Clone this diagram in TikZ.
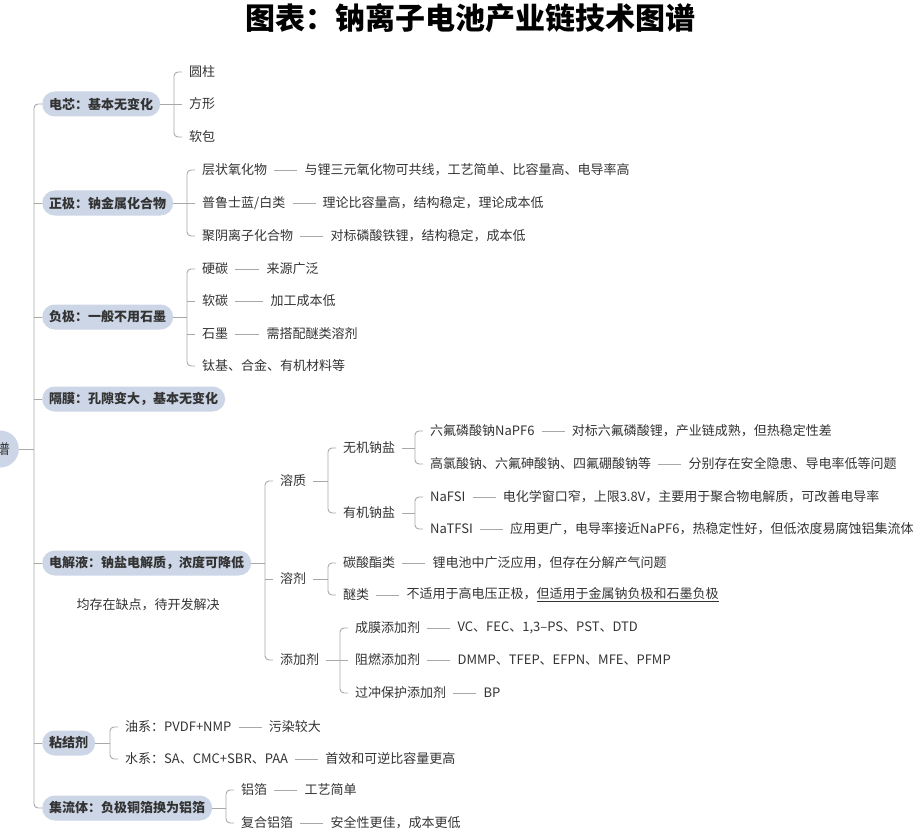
\documentclass[tikz,border=0pt]{standalone}
\usepackage{fontspec}
\setmainfont{Noto Sans CJK SC}
\usetikzlibrary{positioning}
\definecolor{pillblue}{HTML}{CDD6E6}
\definecolor{linegray}{HTML}{A8A8A8}
\definecolor{inkgray}{HTML}{333333}

\begin{document}
\begin{tikzpicture} [
  x = 1pt, y = -1pt,
  inner sep = 0,
  every node/.style = { text = inkgray, font = \fontsize{13pt}{15pt}\selectfont },
  topic/.style = { fill = pillblue, rounded corners = 12.5pt, minimum height = 25pt, inner xsep = 7pt, anchor = west, font = \fontsize{13pt}{15pt}\selectfont\bfseries },
  leaf/.style = { anchor = west },
  link/.style = { draw = linegray, line width = 0.9pt, rounded corners = 4pt },
  tick/.style = { link, shorten > = 7pt },
  sep/.style = { link, shorten < = 7pt, shorten > = 7pt }
  ]
  \useasboundingbox (0,0) rectangle (923,837);
  \clip (0,0) rectangle (923,837);

  \node[text = black, font = \fontsize{30pt}{32pt}\selectfont\bfseries] (title) at (470,18) {图表：钠离子电池产业链技术图谱};

  \node[topic, anchor = east, minimum height = 37pt, rounded corners = 18.5pt, inner xsep = 9pt, font = \fontsize{14pt}{16pt}\selectfont] (root) at (19,449) {钠离子电池产业链技术图谱};
  \coordinate (trunk) at (34,449);

  \node[topic] (cell) at (42,104) {电芯：基本无变化};
  \node[topic] (cathode) at (42,203) {正极：钠金属化合物};
  \node[topic] (anode) at (42,317) {负极：一般不用石墨};
  \node[topic] (membrane) at (42,399) {隔膜：孔隙变大，基本无变化};
  \node[topic] (elyte) at (42,563) {电解液：钠盐电解质，浓度可降低};
  \node (flaw) at (148,605) {均存在缺点，待开发解决};
  \node[topic] (binder) at (42,743) {粘结剂};
  \node[topic] (collector) at (42,808) {集流体：负极铜箔换为铝箔};

  \draw[link] (root) -- (trunk);
  \draw[link] (cell.west) -| (trunk) |- (collector.west);
  \foreach \n in {cathode, anode, membrane, elyte, binder}
    \draw[link] (trunk |- \n.west) -- (\n.west);

  % cell
  \node[leaf] (cyl) at (189,72) {圆柱};
  \node[leaf] (prism) at (189,104) {方形};
  \node[leaf] (pouch) at (189,137) {软包};
  \coordinate (cell-b) at (174,104);
  \draw[link] (cell) -- (cell-b);
  \draw[link] ([xshift=-7pt]cyl.west) -| (cell-b) |- ([xshift=-7pt]pouch.west);
  \draw[tick] (cell-b |- prism.west) -- (prism.west);

  % cathode
  \node[leaf] (layered) at (202,170) {层状氧化物};
  \node[right = 37pt of layered] (layered-n) {与锂三元氧化物可共线，工艺简单、比容量高、电导率高};
  \node[leaf] (prussian) at (202,203) {普鲁士蓝/白类};
  \node[right = 37pt of prussian] (prussian-n) {理论比容量高，结构稳定，理论成本低};
  \node[leaf] (polyanion) at (202,236) {聚阴离子化合物};
  \node[right = 37pt of polyanion] (polyanion-n) {对标磷酸铁锂，结构稳定，成本低};
  \coordinate (cathode-b) at (187,203);
  \draw[link] (cathode) -- (cathode-b);
  \draw[link] ([xshift=-7pt]layered.west) -| (cathode-b) |- ([xshift=-7pt]polyanion.west);
  \draw[tick] (cathode-b |- prussian.west) -- (prussian.west);
  \foreach \n in {layered, prussian, polyanion}
    \draw[sep] (\n) -- (\n-n);

  % anode
  \node[leaf] (hard) at (202,269) {硬碳};
  \node[right = 38pt of hard] (hard-n) {来源广泛};
  \node[leaf] (soft) at (202,301) {软碳};
  \node[right = 42pt of soft] (soft-n) {加工成本低};
  \node[leaf] (graphite) at (202,334) {石墨};
  \node[right = 38pt of graphite] (graphite-n) {需搭配醚类溶剂};
  \node[leaf] (others) at (202,366) {钛基、合金、有机材料等};
  \coordinate (anode-b) at (187,317);
  \draw[link] (anode) -- (anode-b);
  \draw[link] ([xshift=-7pt]hard.west) -| (anode-b) |- ([xshift=-7pt]others.west);
  \foreach \n in {soft, graphite}
    \draw[tick] (anode-b |- \n.west) -- (\n.west);
  \foreach \n in {hard, soft, graphite}
    \draw[sep] (\n) -- (\n-n);

  % electrolyte
  \node[leaf] (solute) at (280,481) {溶质};
  \node[leaf] (solvent) at (280,579) {溶剂};
  \node[leaf] (additive) at (280,660) {添加剂};
  \coordinate (elyte-b) at (265,563);
  \draw[link] (elyte) -- (elyte-b);
  \draw[link] ([xshift=-7pt]solute.west) -| (elyte-b) |- ([xshift=-7pt]additive.west);
  \draw[tick] (elyte-b |- solvent.west) -- (solvent.west);

  \node[leaf] (inorg) at (343,448) {无机钠盐};
  \node[leaf] (org) at (343,513) {有机钠盐};
  \coordinate (solute-b) at (328,481);
  \draw[link, shorten < = 7pt] (solute) -- (solute-b);
  \draw[link] ([xshift=-7pt]inorg.west) -| (solute-b) |- ([xshift=-7pt]org.west);

  \node[leaf] (napf) at (430,431) {六氟磷酸钠NaPF6};
  \node[right = 37pt of napf] (napf-n) {对标六氟磷酸锂，产业链成熟，但热稳定性差};
  \node[leaf] (perchl) at (430,464) {高氯酸钠、六氟砷酸钠、四氟硼酸钠等};
  \node[right = 37pt of perchl] (perchl-n) {分别存在安全隐患、导电率低等问题};
  \coordinate (inorg-b) at (415,448);
  \draw[link, shorten < = 7pt] (inorg) -- (inorg-b);
  \draw[link] ([xshift=-7pt]napf.west) -| (inorg-b) |- ([xshift=-7pt]perchl.west);

  \node[leaf] (nafsi) at (430,497) {NaFSI};
  \node[right = 37pt of nafsi] (nafsi-n) {电化学窗口窄，上限3.8V，主要用于聚合物电解质，可改善电导率};
  \node[leaf] (natfsi) at (430,529) {NaTFSI};
  \node[right = 37pt of natfsi] (natfsi-n) {应用更广，电导率接近NaPF6，热稳定性好，但低浓度易腐蚀铝集流体};
  \coordinate (org-b) at (415,513);
  \draw[link, shorten < = 7pt] (org) -- (org-b);
  \draw[link] ([xshift=-7pt]nafsi.west) -| (org-b) |- ([xshift=-7pt]natfsi.west);

  \node[leaf] (carbonate) at (343,563) {碳酸酯类};
  \node[right = 37pt of carbonate] (carbonate-n) {锂电池中广泛应用，但存在分解产气问题};
  \node[leaf] (ether) at (343,595) {醚类};
  \node[right = 37pt of ether] (ether-n) {不适用于高电压正极，\underline{但适用于金属钠负极和石墨负极}};
  \coordinate (solvent-b) at (328,579);
  \draw[link, shorten < = 7pt] (solvent) -- (solvent-b);
  \draw[link] ([xshift=-7pt]carbonate.west) -| (solvent-b) |- ([xshift=-7pt]ether.west);

  \node[leaf] (film) at (355,628) {成膜添加剂};
  \node[right = 37pt of film] (film-n) {VC、FEC、1,3–PS、PST、DTD};
  \node[leaf] (flame) at (355,660) {阻燃添加剂};
  \node[right = 37pt of flame] (flame-n) {DMMP、TFEP、EFPN、MFE、PFMP};
  \node[leaf] (overchg) at (355,693) {过冲保护添加剂};
  \node[right = 37pt of overchg] (overchg-n) {BP};
  \coordinate (additive-b) at (340,660);
  \draw[link, shorten < = 7pt] (additive) -- (additive-b);
  \draw[link] ([xshift=-7pt]film.west) -| (additive-b) |- ([xshift=-7pt]overchg.west);
  \draw[tick] (additive-b |- flame.west) -- (flame.west);

  \foreach \n in {napf, perchl, nafsi, natfsi, carbonate, ether, film, flame, overchg}
    \draw[sep] (\n) -- (\n-n);

  % binder
  \node[leaf] (oil) at (125,727) {油系：PVDF+NMP};
  \node[right = 37pt of oil] (oil-n) {污染较大};
  \node[leaf] (water) at (125,759) {水系：SA、CMC+SBR、PAA};
  \node[right = 37pt of water] (water-n) {首效和可逆比容量更高};
  \coordinate (binder-b) at (110,743);
  \draw[link] (binder) -- (binder-b);
  \draw[link] ([xshift=-7pt]oil.west) -| (binder-b) |- ([xshift=-7pt]water.west);

  % collector
  \node[leaf] (alfoil) at (241,790) {铝箔};
  \node[right = 37pt of alfoil] (alfoil-n) {工艺简单};
  \node[leaf] (composite) at (241,823) {复合铝箔};
  \node[right = 37pt of composite] (composite-n) {安全性更佳，成本更低};
  \coordinate (collector-b) at (226,808);
  \draw[link] (collector) -- (collector-b);
  \draw[link] ([xshift=-7pt]alfoil.west) -| (collector-b) |- ([xshift=-7pt]composite.west);

  \foreach \n in {oil, water, alfoil, composite}
    \draw[sep] (\n) -- (\n-n);
\end{tikzpicture}
\end{document}
